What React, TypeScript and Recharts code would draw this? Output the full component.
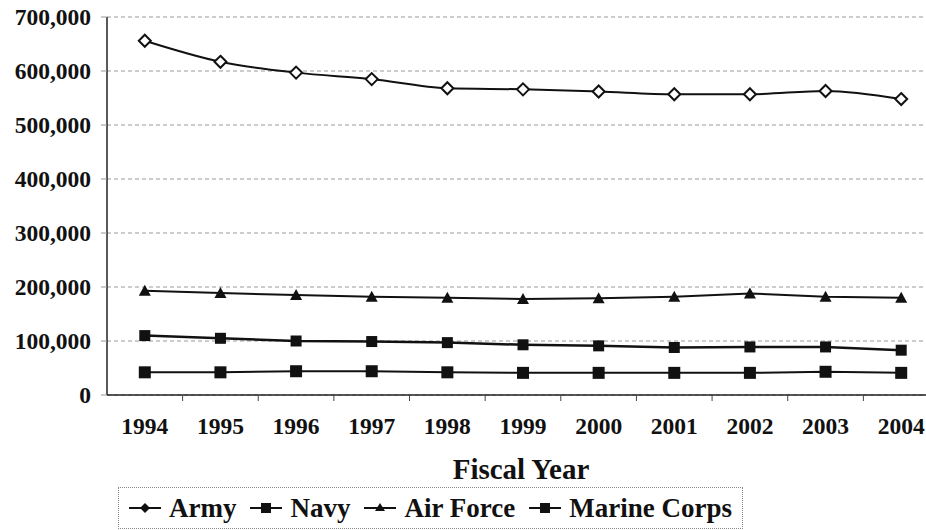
import React from "react";
import {
  LineChart,
  Line,
  XAxis,
  YAxis,
  CartesianGrid,
} from "recharts";

const years = ["1994", "1995", "1996", "1997", "1998", "1999", "2000", "2001", "2002", "2003", "2004"];
const army = [656000, 617000, 597000, 585000, 568000, 566000, 562000, 557000, 557000, 563000, 548000];
const navy = [110000, 105000, 100000, 99000, 97000, 93000, 91000, 88000, 89000, 89000, 83000];
const airForce = [193000, 189000, 185000, 182000, 180000, 178000, 179000, 182000, 188000, 182000, 180000];
const marines = [42000, 42000, 44000, 44000, 42000, 41000, 41000, 41000, 41000, 43000, 41000];
const yTicks = [0, 100000, 200000, 300000, 400000, 500000, 600000, 700000];

const data = years.map((year, i) => ({
  year,
  army: army[i],
  navy: navy[i],
  airForce: airForce[i],
  marines: marines[i],
}));

const FONT = '"Liberation Serif"';
const INK = "#111";
const HALF_BAND = 37.8;

const Diamond = ({ cx, cy }: any) => (
  <path
    d={`M${cx},${cy - 6} L${cx + 6},${cy} L${cx},${cy + 6} L${cx - 6},${cy} Z`}
    fill="#fff"
    stroke={INK}
    strokeWidth={2}
  />
);
const Square = (s: number) => ({ cx, cy }: any) => (
  <rect x={cx - s / 2} y={cy - s / 2} width={s} height={s} fill={INK} />
);
const Triangle = ({ cx, cy }: any) => (
  <path d={`M${cx},${cy - 6} L${cx + 6},${cy + 5} L${cx - 6},${cy + 5} Z`} fill={INK} />
);

// year label at the band centre, small tick mark at the band's right edge
const YearTick = ({ x, y, payload }: any) => (
  <g>
    <line x1={x + HALF_BAND} y1={395} x2={x + HALF_BAND} y2={401} stroke="#444" />
    <text
      x={x}
      y={y}
      dy={16}
      textAnchor="middle"
      fontFamily={FONT}
      fontWeight="bold"
      fontSize={23.5}
      fill={INK}
    >
      {payload.value}
    </text>
  </g>
);

const legendItems = [
  { name: "Army", icon: "diamond" },
  { name: "Navy", icon: "square" },
  { name: "Air Force", icon: "triangle" },
  { name: "Marine Corps", icon: "square" },
];

const LegendIcon = ({ kind }: { kind: string }) => (
  <svg width={32} height={20} style={{ marginRight: 8 }}>
    <line x1={0} y1={10} x2={32} y2={10} stroke={INK} strokeWidth={2} />
    {kind === "diamond" && <path d="M16,5 L21,10 L16,15 L11,10 Z" fill={INK} />}
    {kind === "square" && <rect x={11} y={5} width={10} height={10} fill={INK} />}
    {kind === "triangle" && <path d="M16,5 L21,13 L11,13 Z" fill={INK} />}
  </svg>
);

const FiscalLabel = ({ viewBox }: any) => (
  <text
    x={viewBox.x + viewBox.width / 2 - 2}
    y={viewBox.y + 84}
    textAnchor="middle"
    fontFamily={FONT}
    fontWeight="bold"
    fontSize={29}
    fill={INK}
  >
    Fiscal Year
  </text>
);

export default function App() {
  return (
    <div
      style={{
        position: "absolute",
        left: 0,
        top: 0,
        width: 926,
        height: 530,
        overflow: "hidden",
        background: "#fff",
      }}
    >
      <LineChart
        width={940}
        height={530}
        data={data}
        margin={{ top: 17, right: 1, left: 0, bottom: 0 }}
      >
        <CartesianGrid vertical={false} stroke="#999" strokeDasharray="4 3" />
        <XAxis
          dataKey="year"
          height={135}
          padding={{ left: HALF_BAND, right: HALF_BAND }}
          tickLine={false}
          tickSize={0}
          tickMargin={23}
          axisLine={{ stroke: "#222", strokeWidth: 1.5 }}
          interval={0}
          tick={<YearTick />}
          label={<FiscalLabel />}
        />
        <YAxis
          width={107}
          domain={[0, 700000]}
          ticks={yTicks}
          tickSize={6}
          tickMargin={10}
          tickLine={{ stroke: "#999" }}
          axisLine={{ stroke: "#222", strokeWidth: 1.5 }}
          tickFormatter={(v: number) => v.toLocaleString("en-US")}
          tick={{ fontFamily: FONT, fontWeight: "bold", fontSize: 23.5, fill: INK }}
        />
        <Line
          dataKey="army"
          name="Army"
          stroke={INK}
          strokeWidth={2}
          dot={<Diamond />}
          type="monotone"
          isAnimationActive={false}
        />
        <Line
          dataKey="airForce"
          name="Air Force"
          stroke={INK}
          strokeWidth={2}
          dot={<Triangle />}
          type="linear"
          isAnimationActive={false}
        />
        <Line
          dataKey="navy"
          name="Navy"
          stroke={INK}
          strokeWidth={2.5}
          dot={Square(11)}
          type="linear"
          isAnimationActive={false}
        />
        <Line
          dataKey="marines"
          name="Marine Corps"
          stroke={INK}
          strokeWidth={2}
          dot={Square(12)}
          type="linear"
          isAnimationActive={false}
        />
      </LineChart>
      <div
        style={{
          position: "absolute",
          left: 118,
          top: 487,
          width: 625,
          height: 42,
          boxSizing: "border-box",
          border: "1px dotted #888",
          display: "flex",
          alignItems: "center",
          paddingLeft: 10,
          fontFamily: FONT,
          fontWeight: "bold",
          fontSize: 27,
          color: INK,
          whiteSpace: "nowrap",
        }}
      >
        {legendItems.map((item) => (
          <span key={item.name} style={{ display: "flex", alignItems: "center", marginRight: 14 }}>
            <LegendIcon kind={item.icon} />
            {item.name}
          </span>
        ))}
      </div>
    </div>
  );
}
